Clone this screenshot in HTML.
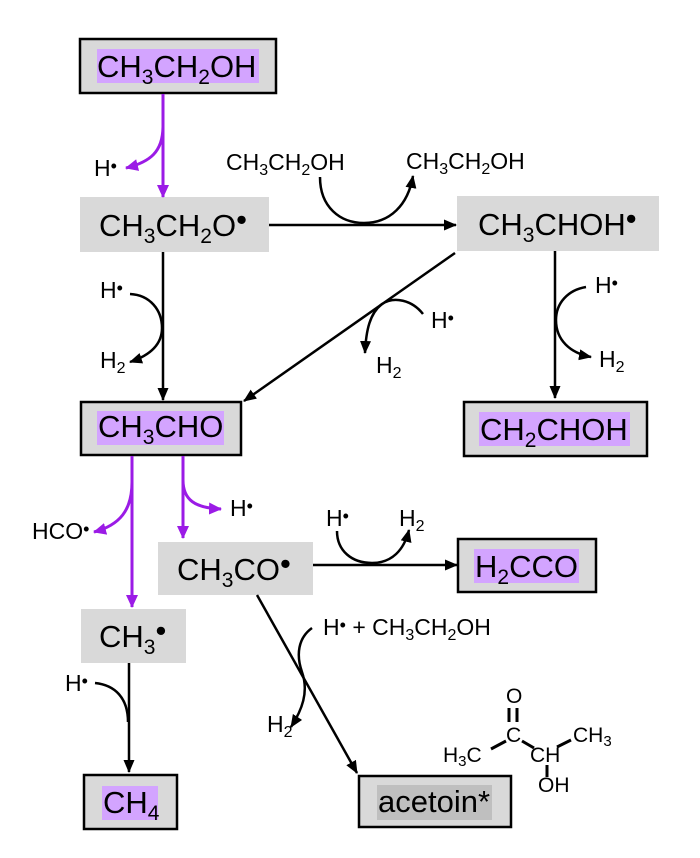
<!DOCTYPE html>
<html><head><meta charset="utf-8"><style>
html,body{margin:0;padding:0;background:#fff;}
svg{display:block;}
text{font-family:"Liberation Sans",Arial,sans-serif;fill:#000;}
.b{font-size:31px;}
.bs{font-size:21px;}
.m{font-size:23px;}
.ms{font-size:16px;}
.a{font-size:21px;}
.as{font-size:15px;}
</style></head><body>
<svg width="700" height="858" viewBox="0 0 700 858" xmlns="http://www.w3.org/2000/svg">
<defs>
<marker id="ab" viewBox="0 0 13 11" refX="12" refY="5.5" markerWidth="13" markerHeight="11" markerUnits="userSpaceOnUse" orient="auto"><path d="M0,0 L13,5.5 L0,11 z" fill="#000"/></marker>
<marker id="ap" viewBox="0 0 13 12" refX="12" refY="6" markerWidth="13" markerHeight="12" markerUnits="userSpaceOnUse" orient="auto"><path d="M0,0 L13,6 L0,12 z" fill="#9b1be6"/></marker>
</defs>

<!-- bordered boxes -->
<rect x="80" y="39" width="196" height="54" fill="#d9d9d9" stroke="#000" stroke-width="2.5"/>
<rect x="97" y="49" width="162" height="34" fill="#d3a4ff"/>
<rect x="81" y="402" width="160" height="53" fill="#d9d9d9" stroke="#000" stroke-width="2.5"/>
<rect x="97" y="411" width="127" height="34" fill="#d3a4ff"/>
<rect x="464" y="402" width="183" height="54" fill="#d9d9d9" stroke="#000" stroke-width="2.5"/>
<rect x="479" y="412" width="151" height="34" fill="#d3a4ff"/>
<rect x="458" y="539" width="138" height="53" fill="#d9d9d9" stroke="#000" stroke-width="2.5"/>
<rect x="474" y="549" width="105" height="34" fill="#d3a4ff"/>
<rect x="84" y="775" width="93" height="54" fill="#d9d9d9" stroke="#000" stroke-width="2.5"/>
<rect x="102" y="786" width="56" height="34" fill="#d3a4ff"/>
<rect x="359" y="776" width="152" height="51" fill="#d9d9d9" stroke="#000" stroke-width="2.5"/>
<rect x="377" y="785" width="115" height="35" fill="#bfbfbf"/>

<!-- plain boxes -->
<rect x="80" y="197" width="189" height="55" fill="#d9d9d9"/>
<rect x="457" y="196" width="202" height="55" fill="#d9d9d9"/>
<rect x="158" y="542" width="155" height="53" fill="#d9d9d9"/>
<rect x="81" y="609" width="105" height="54" fill="#d9d9d9"/>

<!-- main labels -->
<text x="97" y="77" class="b">CH<tspan class="bs" dy="7">3</tspan><tspan dy="-7">CH</tspan><tspan class="bs" dy="7">2</tspan><tspan dy="-7">OH</tspan></text>
<text x="99" y="236" class="b">CH<tspan class="bs" dy="7">3</tspan><tspan dy="-7">CH</tspan><tspan class="bs" dy="7">2</tspan><tspan dy="-7">O</tspan><tspan dy="-6">•</tspan></text>
<text x="478" y="235" class="b">CH<tspan class="bs" dy="7">3</tspan><tspan dy="-7">CHOH</tspan><tspan dy="-6">•</tspan></text>
<text x="98" y="437" class="b">CH<tspan class="bs" dy="7">3</tspan><tspan dy="-7">CHO</tspan></text>
<text x="480" y="440" class="b">CH<tspan class="bs" dy="7">2</tspan><tspan dy="-7">CHOH</tspan></text>
<text x="177" y="580" class="b">CH<tspan class="bs" dy="7">3</tspan><tspan dy="-7">CO</tspan><tspan dy="-6">•</tspan></text>
<text x="475" y="577" class="b">H<tspan class="bs" dy="7">2</tspan><tspan dy="-7">CCO</tspan></text>
<text x="99" y="647" class="b">CH<tspan class="bs" dy="7">3</tspan><tspan dy="-13">•</tspan></text>
<text x="103" y="813" class="b">CH<tspan class="bs" dy="7">4</tspan></text>
<text x="378" y="812" class="b">acetoin*</text>

<!-- small labels -->
<text x="94" y="176" class="m">H<tspan font-size="18" dy="-4">•</tspan></text>
<text x="226" y="170" class="m">CH<tspan class="ms" dy="5">3</tspan><tspan dy="-5">CH</tspan><tspan class="ms" dy="5">2</tspan><tspan dy="-5">OH</tspan></text>
<text x="406" y="169" class="m">CH<tspan class="ms" dy="5">3</tspan><tspan dy="-5">CH</tspan><tspan class="ms" dy="5">2</tspan><tspan dy="-5">OH</tspan></text>
<text x="100" y="298" class="m">H<tspan font-size="18" dy="-4">•</tspan></text>
<text x="100" y="368" class="m">H<tspan class="ms" dy="5">2</tspan></text>
<text x="595" y="293" class="m">H<tspan font-size="18" dy="-4">•</tspan></text>
<text x="599" y="367" class="m">H<tspan class="ms" dy="5">2</tspan></text>
<text x="431" y="328" class="m">H<tspan font-size="18" dy="-4">•</tspan></text>
<text x="376" y="373" class="m">H<tspan class="ms" dy="5">2</tspan></text>
<text x="32" y="539" class="m" font-size="22">HCO<tspan font-size="18" dy="-4">•</tspan></text>
<text x="230" y="516" class="m">H<tspan font-size="18" dy="-4">•</tspan></text>
<text x="326" y="526" class="m">H<tspan font-size="18" dy="-4">•</tspan></text>
<text x="399" y="526" class="m">H<tspan class="ms" dy="5">2</tspan></text>
<text x="323" y="635" class="m">H<tspan font-size="18" dy="-4">•</tspan><tspan dy="4"> + CH</tspan><tspan class="ms" dy="5">3</tspan><tspan dy="-5">CH</tspan><tspan class="ms" dy="5">2</tspan><tspan dy="-5">OH</tspan></text>
<text x="267" y="732" class="m">H<tspan class="ms" dy="5">2</tspan></text>
<text x="65" y="691" class="m">H<tspan font-size="18" dy="-4">•</tspan></text>

<!-- acetoin structure -->
<text x="506" y="703" class="a">O</text>
<text x="506" y="742" class="a">C</text>
<text x="443" y="762" class="a">H<tspan class="as" dy="4">3</tspan><tspan dy="-4">C</tspan></text>
<text x="530" y="762" class="a">CH</text>
<text x="573" y="742" class="a">CH<tspan class="as" dy="4">3</tspan></text>
<text x="538" y="792" class="a">OH</text>
<g stroke="#000" stroke-width="3">
<line x1="509" y1="708" x2="509" y2="722"/>
<line x1="517" y1="708" x2="517" y2="722"/>
<line x1="491" y1="749" x2="506" y2="741"/>
<line x1="522" y1="741" x2="534" y2="748"/>
<line x1="557" y1="747" x2="571" y2="740"/>
<line x1="547" y1="765" x2="547" y2="777"/>
</g>

<!-- black arrows -->
<g fill="none" stroke="#000" stroke-width="2.5">
<line x1="269" y1="225" x2="456" y2="225" marker-end="url(#ab)"/>
<path d="M320,177 C320,207 340,223 364,223 C390,223 408,205 413,176" marker-end="url(#ab)"/>
<line x1="163" y1="252" x2="163" y2="400" marker-end="url(#ab)"/>
<path d="M130,294 C150,295 162,310 162,328 C162,346 148,356 130,362" marker-end="url(#ab)"/>
<line x1="555" y1="251" x2="555" y2="398" marker-end="url(#ab)"/>
<path d="M586,287 C568,290 556,303 556,320 C556,340 570,353 591,357" marker-end="url(#ab)"/>
<line x1="455" y1="253" x2="244" y2="401" marker-end="url(#ab)"/>
<path d="M423,314 C412,300 394,296 382,304 C370,313 366,330 365,353" marker-end="url(#ab)"/>
<line x1="129" y1="663" x2="129" y2="772" marker-end="url(#ab)"/>
<path d="M95,683 C115,685 128,698 128,722"/>
<line x1="313" y1="565" x2="457" y2="565" marker-end="url(#ab)"/>
<path d="M337,531 C337,551 352,563 372,563 C392,563 404,550 409,530" marker-end="url(#ab)"/>
<line x1="257" y1="595" x2="357" y2="773" marker-end="url(#ab)"/>
<path d="M312,628 C298,638 296,655 302,672 C309,692 302,710 291,727" marker-end="url(#ab)"/>
</g>

<!-- purple arrows -->
<g fill="none" stroke="#9b1be6" stroke-width="3">
<line x1="163" y1="94" x2="163" y2="197" marker-end="url(#ap)"/>
<path d="M163,126 C163,152 150,162 126,168" marker-end="url(#ap)"/>
<line x1="132" y1="456" x2="132" y2="607" marker-end="url(#ap)"/>
<path d="M132,482 C132,510 120,525 94,532" marker-end="url(#ap)"/>
<line x1="183" y1="456" x2="183" y2="538" marker-end="url(#ap)"/>
<path d="M183,480 C183,500 195,508 221,509" marker-end="url(#ap)"/>
</g>
</svg>
</body></html>
